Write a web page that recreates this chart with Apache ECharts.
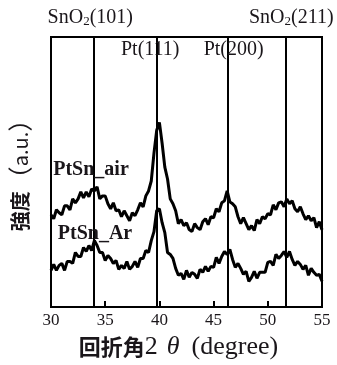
<!DOCTYPE html>
<html>
<head>
<meta charset="utf-8">
<script src="https://cdn.jsdelivr.net/npm/echarts@6/dist/echarts.min.js"></script>
<style>
html, body { margin: 0; padding: 0; background: #fff; }
#xrdChart { width: 337px; height: 365px; }
</style>
</head>
<body>
<div id="xrdChart"></div>
<script>
// 2θ (degree), step 0.25
var twoTheta = [30, 30.25, 30.5, 30.75, 31, 31.25, 31.5, 31.75, 32, 32.25,
    32.5, 32.75, 33, 33.25, 33.5, 33.75, 34, 34.25, 34.5, 34.75,
    35, 35.25, 35.5, 35.75, 36, 36.25, 36.5, 36.75, 37, 37.25,
    37.5, 37.75, 38, 38.25, 38.5, 38.75, 39, 39.25, 39.5, 39.75,
    40, 40.25, 40.5, 40.75, 41, 41.25, 41.5, 41.75, 42, 42.25,
    42.5, 42.75, 43, 43.25, 43.5, 43.75, 44, 44.25, 44.5, 44.75,
    45, 45.25, 45.5, 45.75, 46, 46.25, 46.5, 46.75, 47, 47.25,
    47.5, 47.75, 48, 48.25, 48.5, 48.75, 49, 49.25, 49.5, 49.75,
    50, 50.25, 50.5, 50.75, 51, 51.25, 51.5, 51.75, 52, 52.25,
    52.5, 52.75, 53, 53.25, 53.5, 53.75, 54, 54.25, 54.5, 54.75, 55];

// PtSn_air 強度 (a.u.)
var airIntensity = [93, 89, 98, 95, 93, 102, 102, 98, 109, 105,
    109, 116, 110, 116, 111, 119, 117, 121, 109, 112,
    112, 104, 99, 105, 97, 98, 91, 97, 92, 87,
    95, 92, 98, 105, 101, 112, 117, 127, 155, 178,
    186, 165, 141, 129, 109, 104, 97, 84, 88, 82,
    85, 78, 76, 84, 80, 78, 86, 89, 83, 91,
    90, 99, 96, 105, 107, 117, 106, 104, 101, 91,
    84, 90, 84, 78, 82, 77, 88, 84, 91, 89,
    94, 93, 103, 98, 105, 106, 101, 109, 104, 107,
    99, 96, 101, 94, 88, 92, 87, 90, 80, 86, 78];

// PtSn_Ar 強度 (a.u.)
var arIntensity = [37, 43, 37, 42, 44, 37, 46, 46, 44, 55,
    51, 51, 60, 56, 62, 57, 67, 62, 55, 55,
    47, 52, 49, 44, 47, 38, 42, 39, 46, 38,
    41, 46, 40, 49, 49, 57, 55, 67, 76, 97,
    99, 85, 75, 55, 53, 49, 39, 32, 34, 28,
    37, 30, 35, 33, 29, 38, 35, 41, 36, 41,
    40, 50, 44, 51, 56, 53, 58, 48, 40, 44,
    39, 33, 36, 26, 30, 36, 29, 35, 35, 35,
    45, 46, 42, 53, 49, 52, 56, 50, 56, 48,
    42, 46, 43, 38, 42, 32, 39, 35, 32, 33, 26];

// 参照ピーク位置
var peakPositions = [33.9, 39.8, 46.3, 51.7];
var peakNames = ['SnO{sub|2}(101)', 'Pt(111)', 'Pt(200)', 'SnO{sub|2}(211)'];

var xTicks = [30, 35, 40, 45, 50, 55];
var seriesNames = ['PtSn_air', 'PtSn_Ar'];

var serifFont = '"Liberation Serif", "DejaVu Serif", serif';
var cjkFont = '"Noto Sans CJK JP", "Noto Sans CJK SC", sans-serif';
var textColor = '#1a161a';

function zipData(xs, ys) {
    var out = [];
    for (var i = 0; i < xs.length; i++) {
        out.push([xs[i], ys[i]]);
    }
    return out;
}

// label offsets for each reference line (out of the data arrays)
var peakLabelStyle = [
    { distance: [0, 9], padding: [0, 6, 0, 0] },
    { distance: [0, -23], padding: [0, 14, 0, 0] },
    { distance: [0, -23], padding: [0, 0, 0, 12] },
    { distance: [0, 9], padding: [0, 0, 0, 10] }
];

var markLineData = [];
for (var i = 0; i < peakPositions.length; i++) {
    markLineData.push({
        xAxis: peakPositions[i],
        label: {
            show: true,
            position: 'end',
            distance: peakLabelStyle[i].distance,
            padding: peakLabelStyle[i].padding,
            formatter: peakNames[i],
            color: textColor,
            fontFamily: serifFont,
            fontSize: 20,
            rich: {
                sub: {
                    fontFamily: serifFont,
                    fontSize: 13,
                    color: textColor,
                    verticalAlign: 'bottom',
                    padding: [8, 0, 0, 0]
                }
            }
        }
    });
}

var curveLabel = {
    show: true,
    position: 'inside',
    color: textColor,
    fontFamily: serifFont,
    fontWeight: 'bold',
    fontSize: 20,
    formatter: '{a}'
};

var chart = echarts.init(document.getElementById('xrdChart'), null, { renderer: 'canvas' });

var option = {
    animation: false,
    backgroundColor: '#fff',
    grid: {
        left: 51,
        right: 15,
        top: 37,
        bottom: 56,
        show: true,
        borderColor: '#000',
        borderWidth: 2,
        backgroundColor: 'transparent'
    },
    xAxis: {
        type: 'value',
        min: xTicks[0],
        max: xTicks[xTicks.length - 1],
        interval: 5,
        axisLine: { show: false },
        axisTick: {
            show: true,
            inside: true,
            length: 6,
            lineStyle: { color: '#000', width: 2 }
        },
        splitLine: { show: false },
        axisLabel: {
            color: textColor,
            fontFamily: serifFont,
            fontSize: 17,
            margin: 5
        },
        name: '{cjk|回折角}{num|2}{th|θ}{num|(degree)}',
        nameLocation: 'middle',
        nameGap: 23,
        nameTextStyle: {
            padding: [0, 16, 0, 0],
            rich: {
                cjk: { fontFamily: cjkFont, fontSize: 22, fontWeight: 'bold', color: textColor },
                num: { fontFamily: serifFont, fontSize: 26, color: textColor },
                th: { fontFamily: serifFont, fontSize: 26, fontStyle: 'italic', color: textColor, padding: [0, 12, 0, 9] }
            }
        }
    },
    yAxis: {
        type: 'value',
        min: 0,
        max: 272,
        axisLine: { show: false },
        axisTick: { show: false },
        axisLabel: { show: false },
        splitLine: { show: false },
        name: '{cjk|強度}{p|（}{u|a.u.}{p|）}',
        nameLocation: 'middle',
        nameGap: 18,
        nameTextStyle: {
            padding: [0, 0, 0, 6],
            rich: {
                cjk: { fontFamily: cjkFont, fontSize: 20, fontWeight: 'bold', color: textColor },
                p: { fontFamily: cjkFont, fontSize: 25, color: textColor },
                u: { fontFamily: cjkFont, fontSize: 20, color: textColor }
            }
        }
    },
    series: [{
        name: seriesNames[0],
        type: 'line',
        showSymbol: false,
        data: zipData(twoTheta, airIntensity),
        lineStyle: { color: '#000', width: 3 },
        itemStyle: { color: '#000' },
        markLine: {
            silent: true,
            symbol: ['none', 'none'],
            lineStyle: { color: '#000', width: 2, type: 'solid' },
            data: markLineData
        },
        markPoint: {
            symbol: 'circle',
            symbolSize: 1,
            itemStyle: { color: 'transparent' },
            label: curveLabel,
            data: [{ coord: [33.69, 138], label: { formatter: seriesNames[0] } }]
        }
    }, {
        name: seriesNames[1],
        type: 'line',
        showSymbol: false,
        data: zipData(twoTheta, arIntensity),
        lineStyle: { color: '#000', width: 3 },
        itemStyle: { color: '#000' },
        markPoint: {
            symbol: 'circle',
            symbolSize: 1,
            itemStyle: { color: 'transparent' },
            label: curveLabel,
            data: [{ coord: [34.06, 74], label: { formatter: seriesNames[1] } }]
        }
    }]
};

chart.setOption(option);
</script>
</body>
</html>
